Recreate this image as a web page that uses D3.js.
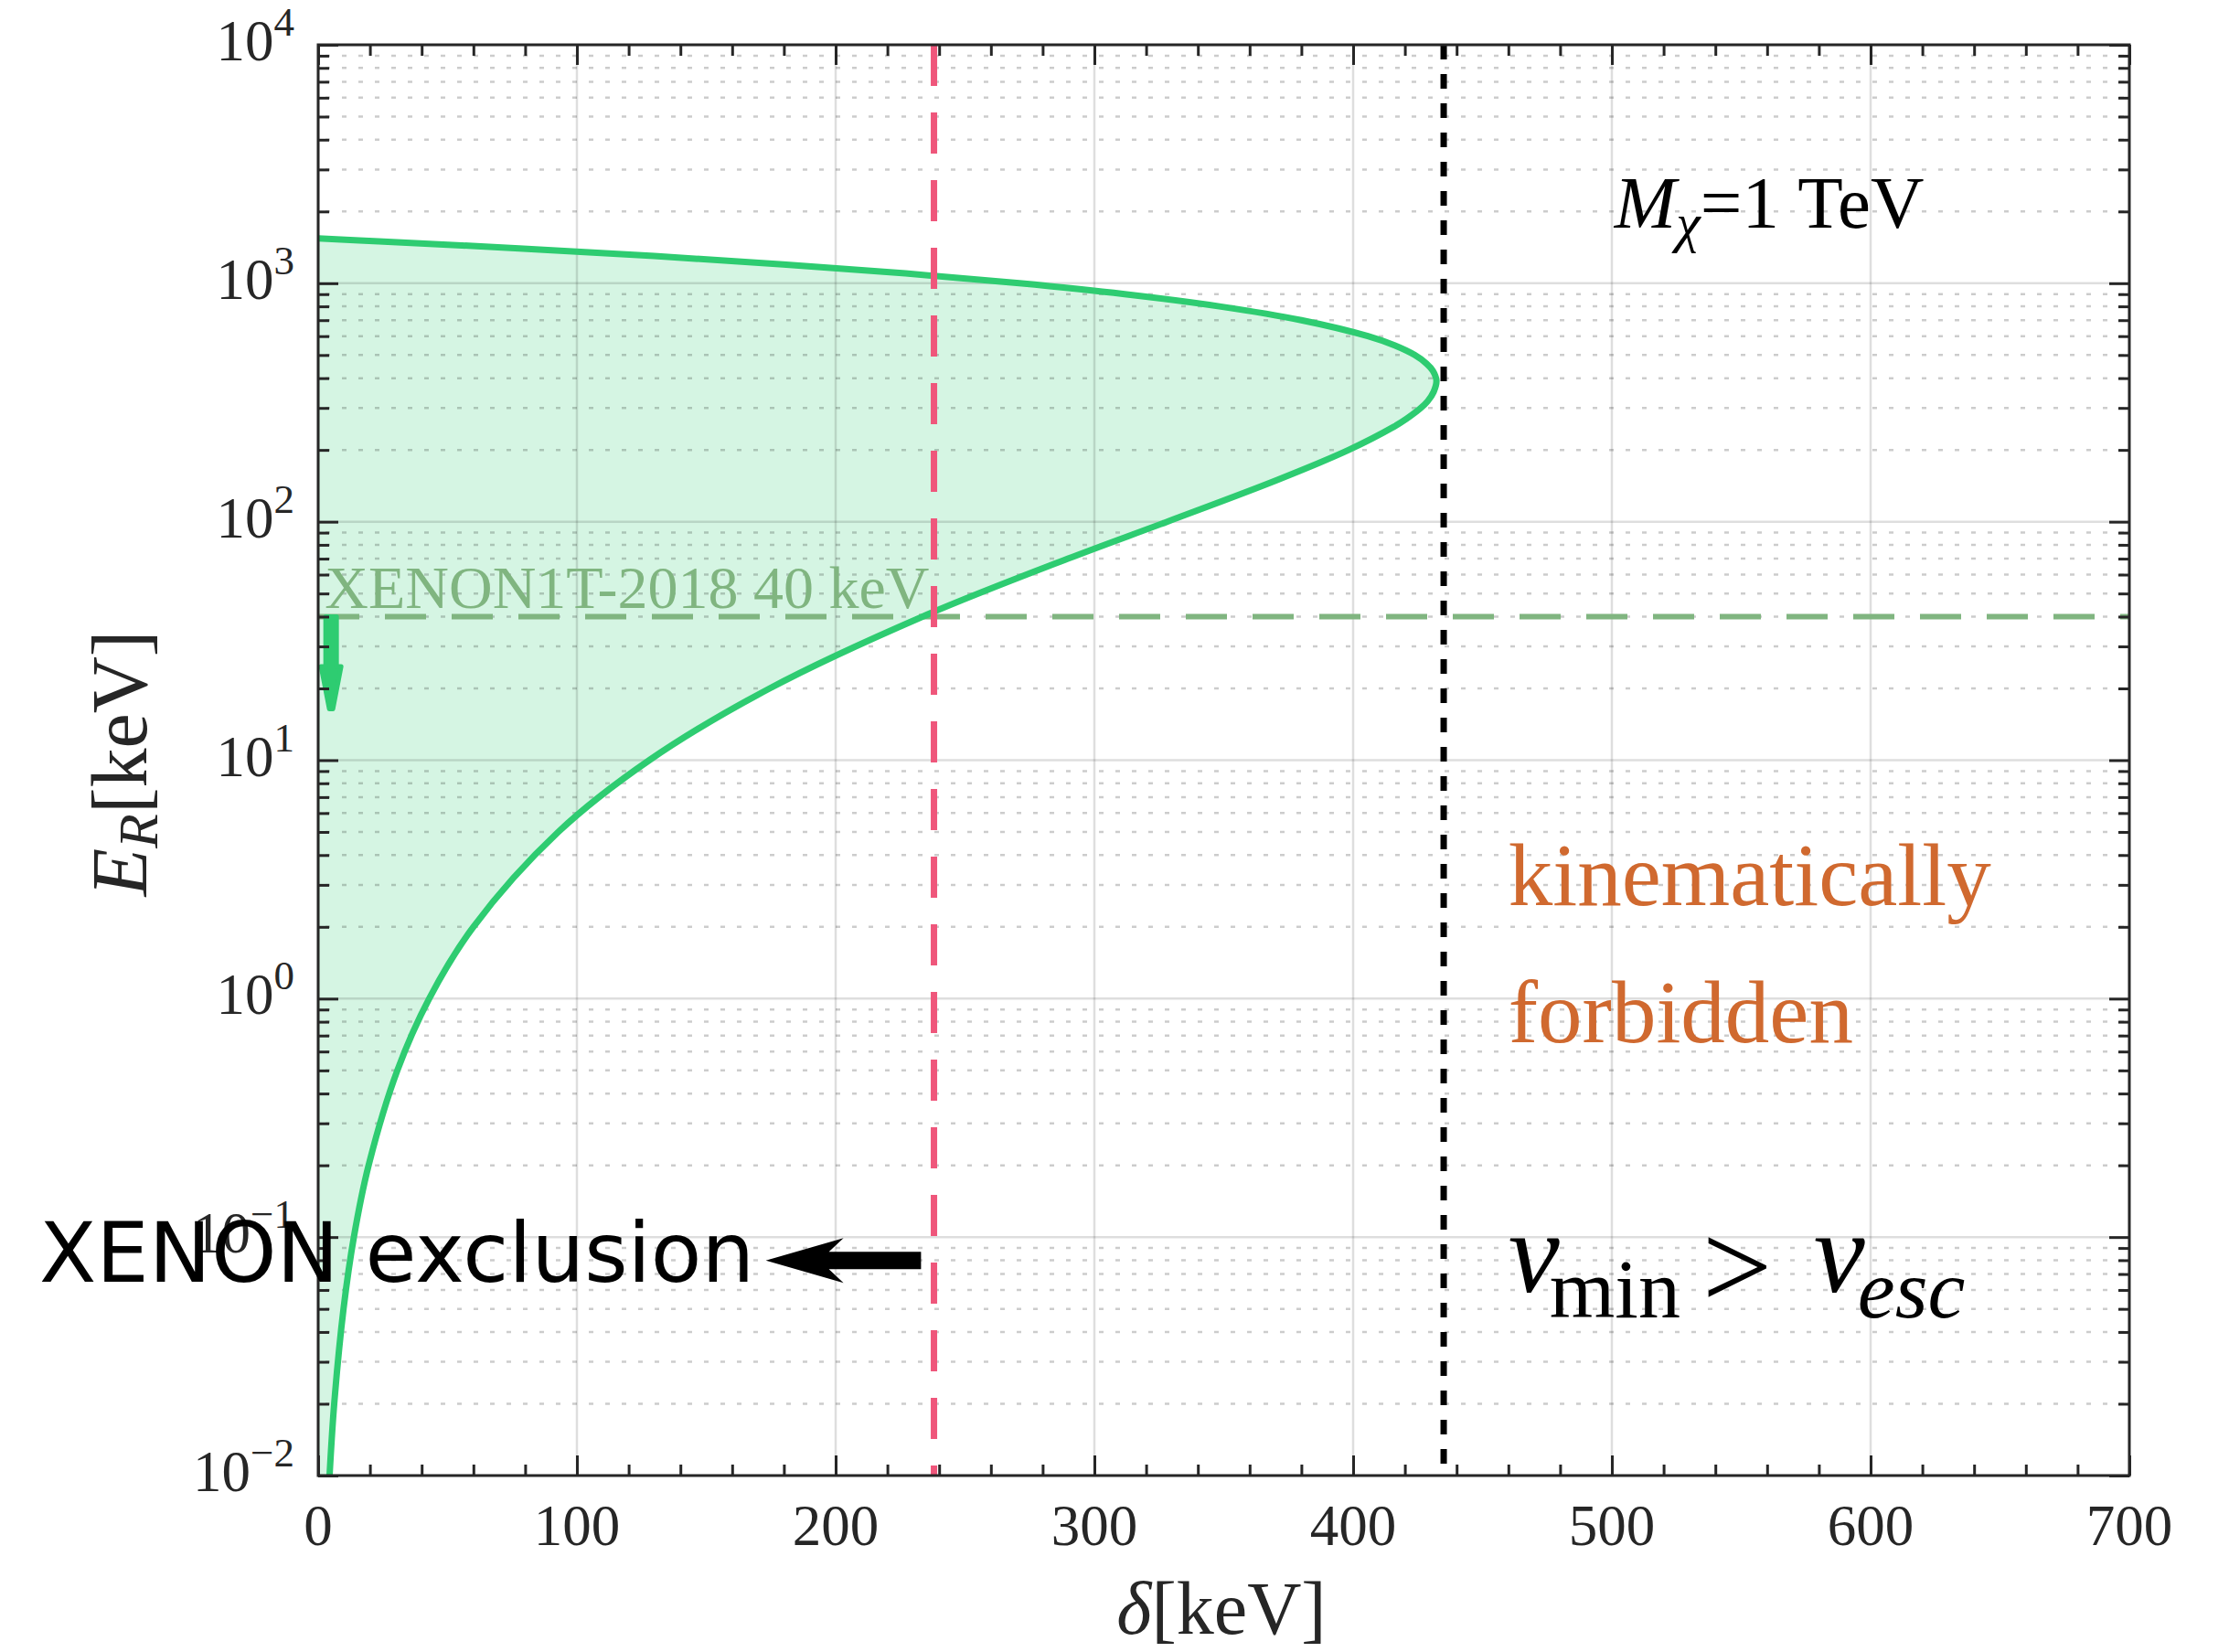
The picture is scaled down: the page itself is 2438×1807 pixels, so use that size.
<!DOCTYPE html>
<html>
<head>
<meta charset="utf-8">
<script src="https://cdn.jsdelivr.net/npm/d3@7"></script>
<style>
  body { margin: 0; background: #fff; }
  svg { display: block; }
</style>
</head>
<body>
<div id="chart"></div>
<script>
// Boundary of the allowed region:
// lower branch from E_R = 0.01 keV up to the tip, then the upper branch back to delta = 0
const boundaryER = [0.01, 0.02, 0.05, 0.1, 0.2, 0.5, 1, 2, 5, 10, 20, 40, 70, 100, 150, 200,
  250, 270, 300, 320, 350, 390, 430, 460, 500, 550, 600, 700, 800, 900, 1000, 1100, 1200,
  1300, 1400, 1500, 1541];
const boundaryDelta = [4.4, 6.2, 9.8, 13.8, 19.5, 30.6, 42.9, 60.0, 92.8, 128, 174.5, 233.6,
  289.8, 328.1, 370.9, 398.3, 415.7, 420.6, 426.2, 428.8, 431.1, 432.2, 430.8, 428.4, 423.8,
  415.8, 405.7, 380.0, 348.3, 311.7, 271, 227, 179.7, 129.9, 77.7, 23.4, 0];

const xTicks = [0, 100, 200, 300, 400, 500, 600, 700];
const yDecades = [-2, -1, 0, 1, 2, 3, 4];

const xenonLimitDelta = 238;   // red dashed line
const escapeDelta = 435;       // black dotted line
const thresholdER = 40;        // XENON1T-2018 threshold

const width = 2438, height = 1807;
const plot = { left: 348, right: 2329, top: 49, bottom: 1614 };

const serif = "'Liberation Serif', 'DejaVu Serif', serif";
const axisColor = "#262626";
const green = "#2ecc71";
const thresholdGreen = "#80b580";

const svg = d3.select("#chart").append("svg")
  .attr("width", width)
  .attr("height", height)
  .style("background", "#fff");

const x = d3.scaleLinear().domain([0, 700]).range([plot.left, plot.right]);
const y = d3.scaleLog().domain([1e-2, 1e4]).range([plot.bottom, plot.top]);

const pts = boundaryER.map((e, i) => [x(boundaryDelta[i]), y(e)]);
const line = d3.line().curve(d3.curveCatmullRom.alpha(0.5));

// clip to the axes box
svg.append("defs").append("clipPath").attr("id", "clip")
  .append("rect")
  .attr("x", plot.left).attr("y", plot.top)
  .attr("width", plot.right - plot.left).attr("height", plot.bottom - plot.top);

const g = svg.append("g").attr("clip-path", "url(#clip)");

// allowed region fill
g.append("path")
  .attr("d", line(pts) + `L${x(0)},${y(1e-2)}Z`)
  .attr("fill", green)
  .attr("fill-opacity", 0.2)
  .attr("stroke", "none");

// minor y grid (dotted)
const minorY = [];
yDecades.slice(0, -1).forEach(k => {
  for (let m = 2; m <= 9; m++) minorY.push(m * Math.pow(10, k));
});
g.selectAll(".minor-grid")
  .data(minorY)
  .enter().append("line")
  .attr("x1", plot.left).attr("x2", plot.right)
  .attr("y1", d => y(d)).attr("y2", d => y(d))
  .attr("stroke", "#000")
  .attr("stroke-opacity", 0.2)
  .attr("stroke-width", 2.5)
  .attr("stroke-dasharray", "5,13")
  .attr("stroke-dashoffset", -8);

// major grid
const decadeValues = yDecades.map(k => Math.pow(10, k));
g.selectAll(".grid-y")
  .data(decadeValues)
  .enter().append("line")
  .attr("x1", plot.left).attr("x2", plot.right)
  .attr("y1", d => y(d)).attr("y2", d => y(d))
  .attr("stroke", "#000").attr("stroke-opacity", 0.13).attr("stroke-width", 2.5);
g.selectAll(".grid-x")
  .data(xTicks)
  .enter().append("line")
  .attr("y1", plot.top).attr("y2", plot.bottom)
  .attr("x1", d => x(d)).attr("x2", d => x(d))
  .attr("stroke", "#000").attr("stroke-opacity", 0.13).attr("stroke-width", 2.5);

// XENON1T threshold line
g.append("line")
  .attr("x1", plot.left).attr("x2", plot.right)
  .attr("y1", y(thresholdER)).attr("y2", y(thresholdER))
  .attr("stroke", thresholdGreen)
  .attr("stroke-width", 6)
  .attr("stroke-dasharray", "45,28");

// boundary curve
g.append("path")
  .attr("d", line(pts))
  .attr("fill", "none")
  .attr("stroke", green)
  .attr("stroke-width", 7);

// red dashed line
g.append("line")
  .attr("x1", x(xenonLimitDelta)).attr("x2", x(xenonLimitDelta))
  .attr("y1", plot.top).attr("y2", plot.bottom)
  .attr("stroke", "#ef567b")
  .attr("stroke-width", 7)
  .attr("stroke-dasharray", "45,29");

// black dotted line
g.append("line")
  .attr("x1", x(escapeDelta)).attr("x2", x(escapeDelta))
  .attr("y1", plot.top).attr("y2", plot.bottom)
  .attr("stroke", "#000")
  .attr("stroke-width", 7)
  .attr("stroke-dasharray", "16,16");

// green downward arrow below threshold
const ax = x(5), aTop = y(thresholdER), aHead = y(24.7), aTip = y(16.4);
g.append("path")
  .attr("d", `M${ax - 6},${aTop}L${ax + 6},${aTop}L${ax + 6},${aHead}L${ax + 11},${aHead}` +
             `L${ax + 2},${aTip}L${ax - 2},${aTip}L${ax - 11},${aHead}L${ax - 6},${aHead}Z`)
  .attr("fill", green)
  .attr("stroke", green)
  .attr("stroke-width", 5)
  .attr("stroke-linejoin", "round");

// axes ticks
function styleTicks(sel) {
  sel.select(".domain").remove();
  sel.selectAll(".tick line").attr("stroke", axisColor).attr("stroke-width", 3);
  sel.selectAll(".tick text").remove();
}
const minorX = d3.range(0, 701, 20).filter(d => d % 100 !== 0);

svg.append("g").attr("transform", `translate(0,${plot.bottom})`)
  .call(d3.axisBottom(x).tickValues(xTicks).tickSize(-22)).call(styleTicks);
svg.append("g").attr("transform", `translate(0,${plot.bottom})`)
  .call(d3.axisBottom(x).tickValues(minorX).tickSize(-12)).call(styleTicks);
svg.append("g").attr("transform", `translate(0,${plot.top})`)
  .call(d3.axisTop(x).tickValues(xTicks).tickSize(-22)).call(styleTicks);
svg.append("g").attr("transform", `translate(0,${plot.top})`)
  .call(d3.axisTop(x).tickValues(minorX).tickSize(-12)).call(styleTicks);

svg.append("g").attr("transform", `translate(${plot.left},0)`)
  .call(d3.axisLeft(y).tickValues(decadeValues).tickSize(-22)).call(styleTicks);
svg.append("g").attr("transform", `translate(${plot.left},0)`)
  .call(d3.axisLeft(y).tickValues(minorY).tickSize(-12)).call(styleTicks);
svg.append("g").attr("transform", `translate(${plot.right},0)`)
  .call(d3.axisRight(y).tickValues(decadeValues).tickSize(-22)).call(styleTicks);
svg.append("g").attr("transform", `translate(${plot.right},0)`)
  .call(d3.axisRight(y).tickValues(minorY).tickSize(-12)).call(styleTicks);

// frame
svg.append("rect")
  .attr("x", plot.left).attr("y", plot.top)
  .attr("width", plot.right - plot.left).attr("height", plot.bottom - plot.top)
  .attr("fill", "none").attr("stroke", axisColor).attr("stroke-width", 3);

// tick labels
svg.selectAll(".xlab")
  .data(xTicks)
  .enter().append("text")
  .attr("x", d => x(d))
  .attr("y", 1690)
  .attr("text-anchor", "middle")
  .style("font-family", serif)
  .style("font-size", "63px")
  .attr("fill", axisColor)
  .text(d => d);

const ylab = svg.selectAll(".ylab")
  .data(yDecades)
  .enter().append("text")
  .attr("x", 322)
  .attr("y", d => y(Math.pow(10, d)) + 17)
  .attr("text-anchor", "end")
  .style("font-family", serif)
  .style("font-size", "63px")
  .attr("fill", axisColor);
ylab.append("tspan").text("10");
ylab.append("tspan")
  .attr("dy", -27)
  .style("font-size", "45px")
  .text(d => (d < 0 ? "\u2212" + (-d) : d));

// axis titles
const xt = svg.append("text")
  .attr("x", 1336).attr("y", 1787)
  .attr("text-anchor", "middle")
  .style("font-family", serif).style("font-size", "82px")
  .attr("fill", axisColor);
xt.append("tspan").style("font-style", "italic").text("\u03b4");
xt.append("tspan").text("[keV]");

const yt = svg.append("text")
  .attr("transform", "translate(160,835) rotate(-90)")
  .attr("text-anchor", "middle")
  .style("font-family", serif).style("font-size", "86px")
  .attr("fill", axisColor);
yt.append("tspan").style("font-style", "italic").text("E");
yt.append("tspan").style("font-style", "italic").style("font-size", "62px").attr("dy", 12).text("R");
yt.append("tspan").attr("dy", -12).text("[keV]");

// annotations
const mt = svg.append("text")
  .attr("x", x(501)).attr("y", y(1711))
  .style("font-family", serif).style("font-size", "81px")
  .attr("fill", "#000");
mt.append("tspan").style("font-style", "italic").text("M");
mt.append("tspan").style("font-style", "italic").style("font-size", "60px").attr("dy", 15).text("\u03c7");
mt.append("tspan").attr("dy", -15).text("=1 TeV");

svg.append("text")
  .attr("x", x(460)).attr("y", y(2.47))
  .style("font-family", serif).style("font-size", "97px")
  .attr("fill", "#d0692f")
  .text("kinematically");
svg.append("text")
  .attr("x", x(460)).attr("y", y(0.656))
  .style("font-family", serif).style("font-size", "97px")
  .attr("fill", "#d0692f")
  .text("forbidden");

// v_min > v_esc
const vx = x(460), vy = y(0.0589);
const vt = svg.append("g").style("font-family", serif).attr("fill", "#000");
vt.append("text").attr("x", vx).attr("y", vy)
  .style("font-size", "126px").style("font-style", "italic").text("v");
vt.append("text").attr("x", vx + 45).attr("y", vy + 28)
  .style("font-size", "92px").text("min");
vt.append("text").attr("x", vx + 212).attr("y", vy + 18)
  .style("font-size", "136px").text(">");
vt.append("text").attr("x", vx + 334).attr("y", vy)
  .style("font-size", "126px").style("font-style", "italic").text("v");
vt.append("text").attr("x", vx + 382).attr("y", vy + 28)
  .style("font-size", "92px").style("font-style", "italic").text("esc");

svg.append("text")
  .attr("x", x(2.6)).attr("y", y(43.5))
  .style("font-family", serif).style("font-size", "66px")
  .attr("fill", thresholdGreen)
  .text("XENON1T-2018 40 keV");

// XENON exclusion label with arrow
svg.append("text")
  .attr("x", 43).attr("y", y(0.0649))
  .style("font-family", "'DejaVu Sans', sans-serif").style("font-size", "91px")
  .attr("fill", "#000")
  .text("XENON exclusion");

const arY = y(0.0798), arStart = x(233), arTip = x(173);
svg.append("path")
  .attr("d", `M${arTip},${arY}L${arTip + 85},${arY - 24.5}L${arTip + 69},${arY - 9.5}` +
             `L${arStart},${arY - 9.5}L${arStart},${arY + 9.5}L${arTip + 69},${arY + 9.5}` +
             `L${arTip + 85},${arY + 24.5}Z`)
  .attr("fill", "#000");
</script>
</body>
</html>
